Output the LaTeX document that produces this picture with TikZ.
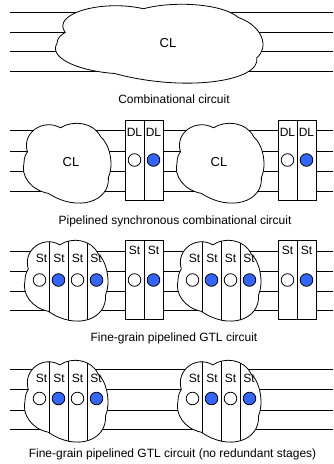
\documentclass[tikz,border=0pt]{standalone}
\usepackage{fontspec}
\setmainfont{Liberation Sans}
\definecolor{dotblue}{HTML}{3366FF}
\def\blobpath{(0.04,0.36) .. controls (-0.03,0.12) and (0.22,-0.06) .. (0.42,0.06) .. controls (0.56,-0.04) and (0.80,-0.01) .. (0.88,0.17) .. controls (1.0,0.28) and (1.03,0.55) .. (0.97,0.68) .. controls (0.99,0.98) and (0.62,1.12) .. (0.28,0.88) .. controls (0.08,0.84) and (-0.04,0.66) .. (0.0,0.5) .. controls (0.0,0.43) and (0.02,0.39) .. cycle}
\newcommand{\drawblob}[5]{%
  \begin{scope}[shift={(#1,#2)}, x=#3pt, y=-#4pt]
    \fill[white] \blobpath;
    \begin{scope}
      \clip \blobpath;
      \foreach \u in {#5} \draw (\u,-0.1) -- (\u,1.1);
    \end{scope}
    \draw \blobpath;
  \end{scope}}
\begin{document}
\begin{tikzpicture}[x=1pt,y=-1pt, line width=0.8pt,
  wire/.style={draw=black},
  lbl/.style={font=\fontsize{12}{14}\selectfont, inner sep=0pt, anchor=base},
  cllbl/.style={font=\fontsize{13}{15}\selectfont, inner sep=0pt},
  captxt/.style={font=\fontsize{12}{14}\selectfont, inner sep=0pt, anchor=base},
  cell/.style={draw, fill=white, minimum width=19pt, inner sep=0pt},
  dotw/.style={circle, draw, fill=white, minimum size=12.6pt, inner sep=0pt},
  dotb/.style={circle, draw, fill=dotblue, minimum size=12.6pt, inner sep=0pt}]
\useasboundingbox (0,0) rectangle (333,464);

% ---------- Panel 1 ----------
\foreach \y in {12,32,51.5,71} \draw[wire] (10,\y) -- (333,\y);
\drawblob{57}{4}{206}{79}{2}
\node[cllbl] (cl1) at (168,43) {CL};
\node[captxt] (cap1) at (174,103) {Combinational circuit};

% ---------- Panel 2 ----------
\foreach \y in {130,151,171,191} \draw[wire] (10,\y) -- (333,\y);
\drawblob{24}{123}{87}{80}{2}
\drawblob{177}{123}{87}{80}{2}
\node[cllbl] (cl2a) at (71,162) {CL};
\node[cllbl] (cl2b) at (219,162) {CL};
\foreach \x/\n in {134.5/a,153.5/b,287.5/c,306.5/d}
  \node[cell, minimum height=80pt] (dlbox\n) at (\x,160) {};
\foreach \x/\n in {134.5/a,153.5/b,287.5/c,306.5/d}
  \node[lbl] (dl\n) at (\x,136) {DL};
\node[dotw] (d2a) at (134.5,160) {};
\node[dotb] (d2b) at (153.5,160) {};
\node[dotw] (d2c) at (287.5,160) {};
\node[dotb] (d2d) at (306.5,160) {};
\node[captxt] (cap2) at (175,224) {Pipelined synchronous combinational circuit};

% ---------- Panel 3 ----------
\foreach \y in {251,271,291,310} \draw[wire] (10,\y) -- (333,\y);
\drawblob{25}{240}{83}{81}{0.295,0.518,0.747}
\drawblob{178}{240}{83}{81}{0.295,0.518,0.747}
\foreach \s/\n in {0/a,153/b}{
  \foreach \x/\m in {41.5/1,59/2,77.5/3,96/4}
    \node[lbl] (st3\n\m) at (\x+\s,262) {St};
  \node[dotw] (c3\n1) at (39.5+\s,280) {};
  \node[dotb] (c3\n2) at (58.5+\s,280) {};
  \node[dotw] (c3\n3) at (77.5+\s,280) {};
  \node[dotb] (c3\n4) at (96.5+\s,280) {};
}
\foreach \x/\n in {134.5/a,153.5/b,287.5/c,306.5/d}
  \node[cell, minimum height=79pt] (stbox\n) at (\x,279.5) {};
\foreach \x/\n in {134.5/a,153.5/b,287.5/c,306.5/d}
  \node[lbl] (stb\n) at (\x,254) {St};
\node[dotw] (e3a) at (134.5,280) {};
\node[dotb] (e3b) at (153.5,280) {};
\node[dotw] (e3c) at (287.5,280) {};
\node[dotb] (e3d) at (306.5,280) {};
\node[captxt] (cap3) at (174,341) {Fine-grain pipelined GTL circuit};

% ---------- Panel 4 ----------
\foreach \y in {369,389,410,429} \draw[wire] (10,\y) -- (333,\y);
\drawblob{25}{360}{83}{82}{0.295,0.518,0.747}
\drawblob{178}{360}{83}{82}{0.295,0.518,0.747}
\foreach \s/\n in {0/a,153/b}{
  \foreach \x/\m in {41.5/1,59/2,77.5/3,96/4}
    \node[lbl] (st4\n\m) at (\x+\s,382) {St};
  \node[dotw] (c4\n1) at (39.5+\s,398.5) {};
  \node[dotb] (c4\n2) at (58.5+\s,398.5) {};
  \node[dotw] (c4\n3) at (77.5+\s,398.5) {};
  \node[dotb] (c4\n4) at (96.5+\s,398.5) {};
}
\node[captxt] (cap4) at (172.5,457) {Fine-grain pipelined GTL circuit (no redundant stages)};
\end{tikzpicture}
\end{document}
